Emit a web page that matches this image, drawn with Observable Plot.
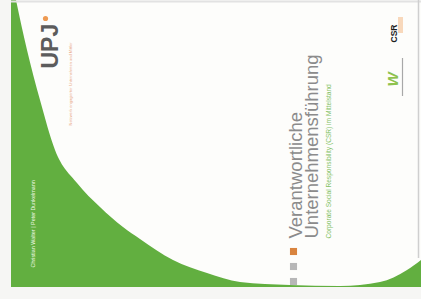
<!DOCTYPE html>
<html><head><meta charset="utf-8">
<script src="https://cdn.jsdelivr.net/npm/d3@7"></script>
<script src="https://cdn.jsdelivr.net/npm/@observablehq/plot@0.6"></script>
<style>body{margin:0;background:#f6f6f4;overflow:hidden}</style>
</head><body><div id="chart"></div>
<script>
// Boundary of the white oval on the green cover
const edgeX = [16, 27, 40, 55, 77, 100, 123, 140, 173, 207, 240, 290, 340, 380, 407, 421];
const edgeY = [0, 50, 100, 150, 183, 207, 227, 239, 260, 273, 282, 285, 286, 282, 270, 260];
const edge = edgeX.map((x, i) => ({x, y: edgeY[i]}));

// Cover extent
const coverX = [11, 421];
const coverY = [0, 287];

// Texts
const titleLines = ["Verantwortliche", "Unternehmensführung"];
const titleX = [301, 317];
const subtitle = "Corporate Social Responsibility (CSR) im Mittelstand";
const authors = "Christian Walter | Peter Dunkelmann";
const logoText = "UPJ";
const logoTagline = "Netzwerk engagierter Unternehmen und Mittler";

// Decorative squares
const squareY = [251, 266, 281];
const squareColor = ["#d9843e", "#b7b7b7", "#b7b7b7"];

const cover = [{x1: coverX[0], x2: coverX[1], y1: coverY[0], y2: coverY[1]}];
const titles = titleLines.map((t, i) => ({t, x: titleX[i], y: 238}));
const squares = squareY.map((y, i) => ({x: 293, y, c: squareColor[i]}));
const font = "Liberation Sans, Arial, sans-serif";

const rot = {rotate: -90, textAnchor: "start", lineAnchor: "bottom", fontFamily: font};

const chart = Plot.plot({
  width: 421, height: 299,
  margin: 0,
  x: {domain: [0, 421], range: [0, 421], axis: null},
  y: {domain: [0, 299], range: [0, 299], axis: null},
  style: {background: "#f6f6f4", overflow: "hidden"},
  marks: [
    Plot.rect(cover, {x1: "x1", x2: "x2", y1: "y1", y2: "y2", fill: "#62af40"}),
    Plot.areaY(edge, {x: "x", y1: 0, y2: "y", fill: "#fdfdfb", curve: "monotone-x"}),
    Plot.ruleY([1], {x1: 11, x2: 421, stroke: "#e2e2e2", strokeWidth: 2}),
    Plot.ruleX([418], {y1: 0, y2: 258, stroke: "#cfcfcf", strokeWidth: 1.5}),
    // title
    Plot.text(titles, {x: "x", y: "y", text: "t", ...rot, fontSize: 18.5, fill: "#8b8b8b"}),
    Plot.text([subtitle], {x: 330, y: 238, text: d => d, ...rot, fontSize: 6.6, fill: "#82c164"}),
    // squares
    Plot.dot(squares, {x: "x", y: "y", fill: "c", symbol: "square", r: 4}),
    // authors in green band
    Plot.text([authors], {x: 34, y: 267, text: d => d, ...rot, fontSize: 5.4, fill: "#eef7e6"}),
    // UPJ logo
    Plot.text([logoText], {x: 57, y: 68, text: d => d, ...rot, fontSize: 23, fontWeight: "bold", fill: "#5c5c5c"}),
    Plot.dot([0], {x: 45, y: 18, r: 2.6, fill: "#ee9a52"}),
    Plot.text([logoTagline], {x: 71, y: 125, text: d => d, ...rot, fontSize: 4, fill: "#e9ab8a"}),
    // CSR logo
    Plot.rect([0], {x1: 398, x2: 403, y1: 17, y2: 33, fill: "#f8d8bb"}),
    Plot.text(["CSR"], {x: 396, y: 42, text: d => d, ...rot, fontSize: 8.5, fontWeight: "bold", fill: "#1e1e1e"}),
    // W logo
    Plot.text(["W"], {x: 397, y: 86, text: d => d, ...rot, fontSize: 15, fontStyle: "italic", fontWeight: "bold", fill: "#8dc24e"}),
    Plot.ruleX([402], {y1: 58, y2: 96, stroke: "#a8a8a8", strokeWidth: 1.2})
  ]
});
document.getElementById("chart").append(chart);
</script>
</body></html>
